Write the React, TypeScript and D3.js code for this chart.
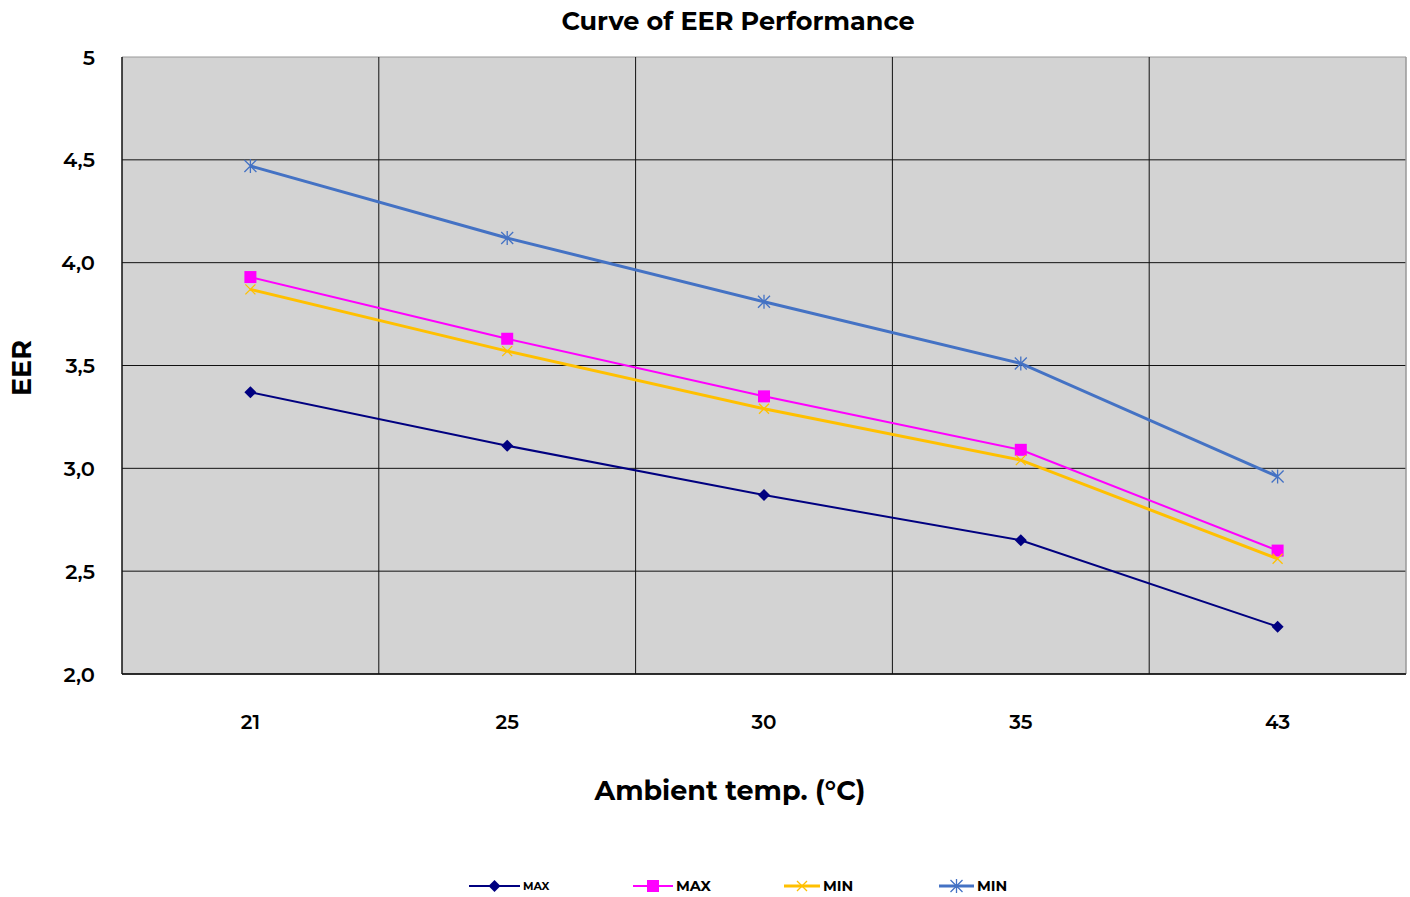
import React from "react";
import * as d3 from "d3";

const categories = ["21", "25", "30", "35", "43"];
const maxA = [3.37, 3.11, 2.87, 2.65, 2.23];
const maxB = [3.93, 3.63, 3.35, 3.09, 2.6];
const minA = [3.87, 3.57, 3.29, 3.04, 2.56];
const minB = [4.47, 4.12, 3.81, 3.51, 2.96];
const yTicks = [2.0, 2.5, 3.0, 3.5, 4.0, 4.5, 5];
const yTickLabels = ["2,0", "2,5", "3,0", "3,5", "4,0", "4,5", "5"];
const seriesNames = ["MAX", "MAX", "MIN", "MIN"];

const W = 1410, H = 897;
const M = { left: 122, right: 1406, top: 57, bottom: 674 };
const FONT = "Montserrat, 'DejaVu Sans', sans-serif";

type Kind = "diamond" | "square" | "x" | "star";

function Marker({ kind, x, y, color }: { kind: Kind; x: number; y: number; color: string }) {
  if (kind === "diamond") {
    const s = 6;
    return <path d={`M${x},${y - s}L${x + s},${y}L${x},${y + s}L${x - s},${y}Z`} fill={color} />;
  }
  if (kind === "square") {
    const s = 6;
    return <rect x={x - s} y={y - s} width={2 * s} height={2 * s} fill={color} />;
  }
  if (kind === "x") {
    const s = 5;
    return (
      <path d={`M${x - s},${y - s}L${x + s},${y + s}M${x - s},${y + s}L${x + s},${y - s}`} stroke={color} strokeWidth={1.3} fill="none" />
    );
  }
  const s = 6;
  return (
    <path
      d={`M${x - s},${y - s}L${x + s},${y + s}M${x - s},${y + s}L${x + s},${y - s}M${x},${y - s - 1}L${x},${y + s + 1}`}
      stroke={color}
      strokeWidth={1.3}
      fill="none"
    />
  );
}

export default function App() {
  const x = d3.scaleBand<string>().domain(categories).range([M.left, M.right]);
  const y = d3.scaleLinear().domain([2, 5]).range([M.bottom, M.top]);
  const cx = (c: string) => (x(c) as number) + x.bandwidth() / 2;

  const series = [
    { name: seriesNames[0], values: maxA, color: "#000080", width: 2, kind: "diamond" as Kind, fs: 11 },
    { name: seriesNames[1], values: maxB, color: "#ff00ff", width: 2, kind: "square" as Kind, fs: 14.5 },
    { name: seriesNames[2], values: minA, color: "#ffc000", width: 3, kind: "x" as Kind, fs: 14.5 },
    { name: seriesNames[3], values: minB, color: "#4472c4", width: 3, kind: "star" as Kind, fs: 14.5 },
  ];

  const line = d3
    .line<number>()
    .x((_, i) => cx(categories[i]))
    .y((v) => y(v));

  const legendX = [469, 633, 784, 939];
  const legendLen = [51, 40, 36, 35];

  return (
    <svg width={W} height={H} style={{ position: "absolute", left: 0, top: 0, background: "#fff" }}>
      <text x={738} y={30} textAnchor="middle" fontFamily={FONT} fontWeight={700} fontSize={25.5}>
        Curve of EER Performance
      </text>
      <rect x={M.left} y={M.top} width={M.right - M.left} height={M.bottom - M.top} fill="#d3d3d3" />
      {yTicks.map((t, i) => (
        <line key={"h" + i} x1={M.left} x2={M.right} y1={y(t)} y2={y(t)} stroke={t === 5 ? "#999" : "#111"} strokeWidth={1} />
      ))}
      {categories.slice(1).map((c) => (
        <line key={"v" + c} x1={x(c)} x2={x(c)} y1={M.top} y2={M.bottom} stroke="#111" strokeWidth={1} />
      ))}
      <line x1={M.right} x2={M.right} y1={M.top} y2={M.bottom} stroke="#999" strokeWidth={1.5} />
      <line x1={M.left} x2={M.left} y1={M.top} y2={M.bottom} stroke="#111" strokeWidth={1.5} />
      <line x1={M.left} x2={M.right} y1={M.bottom} y2={M.bottom} stroke="#111" strokeWidth={1.5} />
      {yTicks.map((t, i) => (
        <text key={"yl" + i} x={95} y={y(t) + 7.5} textAnchor="end" fontFamily={FONT} fontWeight={600} fontSize={21}>
          {yTickLabels[i]}
        </text>
      ))}
      {categories.map((c) => (
        <text key={"xl" + c} x={cx(c)} y={729} textAnchor="middle" fontFamily={FONT} fontWeight={600} fontSize={20}>
          {c}
        </text>
      ))}
      <text x={730} y={800} textAnchor="middle" fontFamily={FONT} fontWeight={700} fontSize={27}>
        Ambient temp. (°C)
      </text>
      <text transform={`translate(31,368) rotate(-90)`} textAnchor="middle" fontFamily={FONT} fontWeight={700} fontSize={27}>
        EER
      </text>
      {series.map((s, si) => (
        <g key={"s" + si}>
          <path d={line(s.values) || ""} fill="none" stroke={s.color} strokeWidth={s.width} />
          {s.values.map((v, i) => (
            <Marker key={i} kind={s.kind} x={cx(categories[i])} y={y(v)} color={s.color} />
          ))}
        </g>
      ))}
      {series.map((s, si) => {
        const lx = legendX[si];
        const len = legendLen[si];
        return (
          <g key={"lg" + si}>
            <line x1={lx} x2={lx + len} y1={886} y2={886} stroke={s.color} strokeWidth={s.width} />
            <Marker kind={s.kind} x={lx + len / 2} y={886} color={s.color} />
            <text x={lx + len + 3} y={886 + s.fs * 0.36} fontFamily={FONT} fontWeight={700} fontSize={s.fs}>
              {s.name}
            </text>
          </g>
        );
      })}
    </svg>
  );
}
